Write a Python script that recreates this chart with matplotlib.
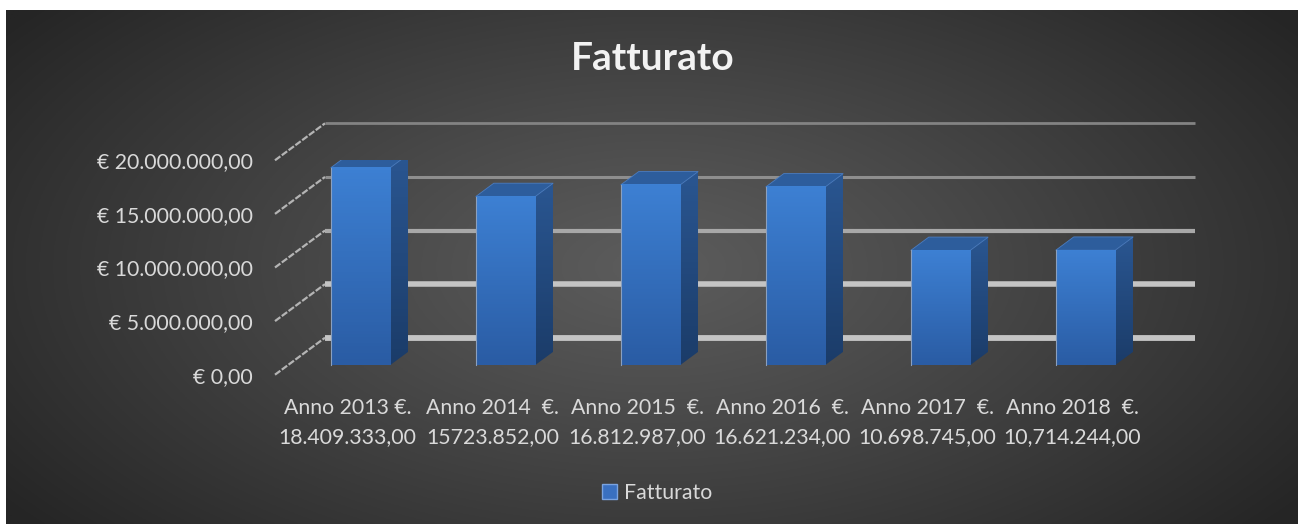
import numpy as np
import matplotlib
matplotlib.use('Agg')
import matplotlib.pyplot as plt
from matplotlib.patches import Polygon, Patch
from matplotlib.colors import to_rgb

plt.rcParams['font.family'] = ['Lato', 'DejaVu Sans']

years = ['Anno 2013 €.', 'Anno 2014  €.', 'Anno 2015  €.', 'Anno 2016  €.', 'Anno 2017  €.', 'Anno 2018  €.']
amounts_text = ['18.409.333,00', '15723.852,00', '16.812.987,00', '16.621.234,00', '10.698.745,00', '10,714.244,00']
fatturato = [18409333, 15723852, 16812987, 16621234, 10698745, 10714244]
y_ticks = [0, 5e6, 10e6, 15e6, 20e6]
y_tick_labels = ['€ 0,00', '€ 5.000.000,00', '€ 10.000.000,00', '€ 15.000.000,00', '€ 20.000.000,00']

W, H = 1298, 524
TXT = '#d9d9d9'

# oblique 3d: how far the back wall sits, in data units
DX = 50 / 145
DY = 3.45e6
F1, F2 = 0.26, 0.62   # depth of bar front / back face
BW = 0.41


def vgrad(top, bottom, n=64):
    t = np.linspace(0, 1, n)[:, None, None]
    return (1 - t) * np.array(to_rgb(top)) + t * np.array(to_rgb(bottom))


fig = plt.figure(figsize=(W / 100, H / 100), dpi=100, facecolor='white')

# background panel with radial shading
bg = fig.add_axes([6 / W, 0, 1 - 6 / W, 514 / H])
yy, xx = np.mgrid[0:1:300j, 0:1:700j]
r = np.sqrt(((xx - 0.5) / 0.62) ** 2 + ((yy - 0.5) / 0.8) ** 2)
r = np.clip(r, 0, 1) ** 1.1
c0, c1 = np.array(to_rgb('#5c5c5c')), np.array(to_rgb('#252525'))
bg.imshow(c0 + (c1 - c0) * r[..., None], aspect='auto', extent=(0, 1, 0, 1))
bg.axis('off')

ax = fig.add_axes([275 / W, (H - 374.7) / H, 870 / W, 214.4 / H])
ax.set_facecolor('none')
for s in ax.spines.values():
    s.set_visible(False)

x = np.arange(len(fatturato))

# back wall gridlines + diagonal ticks on the left side
grid_style = {0: ('#c4c4c4', 4.2), 5e6: ('#c4c4c4', 4.0), 10e6: ('#a8a8a8', 3.0),
              15e6: ('#8e8e8e', 2.2), 20e6: ('#838383', 2.0)}
for v in y_ticks:
    col, lw = grid_style[v]
    ax.plot([-0.5 + DX, len(x) - 0.5 + DX], [v + DY, v + DY], color=col, lw=lw,
            solid_capstyle='butt', clip_on=False, zorder=1)
    ax.plot([-0.5, -0.5 + DX], [v, v + DY], color='#b4b4b4', lw=1.6,
            ls=(0, (3, 0.8)), clip_on=False, zorder=1)

for i, v in enumerate(fatturato):
    xl = i - BW / 2 + DX * F1
    xr = i + BW / 2 + DX * F1
    y0 = DY * F1
    # side face
    side = Polygon([(xr, y0), (xr + DX * (F2 - F1), DY * F2), (xr + DX * (F2 - F1), v + DY * F2),
                    (xr, v + y0)], closed=True, facecolor='none', edgecolor='none', zorder=3)
    ax.add_patch(side)
    im = ax.imshow(vgrad('#2a5691', '#1b3c69'), aspect='auto', zorder=3,
                   extent=(xr, xr + DX * (F2 - F1), y0, v + DY * F2))
    im.set_clip_path(side)
    # top face
    ax.add_patch(Polygon([(xl, v + y0), (xr, v + y0), (xr + DX * (F2 - F1), v + DY * F2),
                          (xl + DX * (F2 - F1), v + DY * F2)], closed=True,
                         facecolor='#2d5d9c', edgecolor='#4a7cc0', lw=0.6, zorder=4))
    # front face
    ax.imshow(vgrad('#3d80d3', '#2a5ca4'), aspect='auto', zorder=5,
              extent=(xl, xr, y0, v + y0))
    ax.plot([xl, xl], [y0, v + y0], color='#8aa0bf', lw=0.8, zorder=6)

ax.set_xlim(-0.5, len(x) - 0.5)
ax.set_ylim(0, 20e6)

ax.set_yticks(y_ticks, y_tick_labels)
ax.set_xticks(x, [f'{a}\n{b}' for a, b in zip(years, amounts_text)], linespacing=1.55)
ax.tick_params(axis='y', length=0, pad=16, labelsize=15.3, labelcolor=TXT)
ax.tick_params(axis='x', length=0, pad=17, labelsize=15.3, labelcolor=TXT)

fig.text(653 / W, 1 - 58 / H, 'Fatturato', ha='center', va='center',
         fontsize=28, fontweight='bold', color='#f2f2f2')

fig.legend(handles=[Patch(facecolor='#3a70c0', edgecolor='#7aa3e0')], labels=['Fatturato'],
           loc='center', bbox_to_anchor=(657 / W, 1 - 493 / H), frameon=False,
           handlelength=0.7, handleheight=0.7, handletextpad=0.3,
           fontsize=15.3, labelcolor=TXT)

fig.savefig('out.png', dpi=100, facecolor='white')
